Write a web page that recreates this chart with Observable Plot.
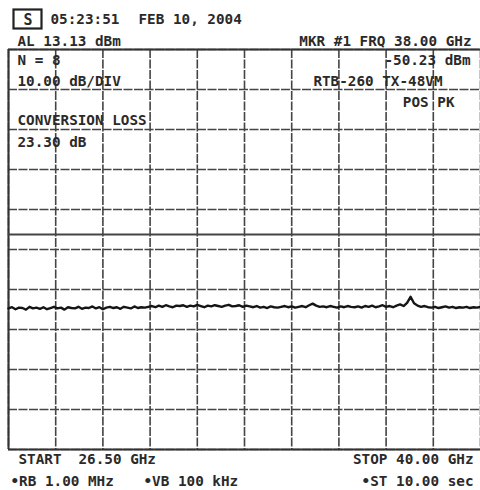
<!DOCTYPE html>
<html>
<head>
<meta charset="utf-8">
<script src="https://cdn.jsdelivr.net/npm/d3@7"></script>
<script src="https://cdn.jsdelivr.net/npm/@observablehq/plot@0.6"></script>
<style>
  html, body { margin: 0; padding: 0; background: #fff; }
  #chart svg { display: block; }
</style>
</head>
<body>
<div id="chart"></div>
<script>
// ---- data ----
const startGHz = 26.5;
const stopGHz = 40.0;
const stepGHz = 0.1;
const refLevel = 13.13;     // dBm, top of screen
const dbPerDiv = 10;
const displayLine = -33.12; // dBm
const traceDbm = [
  -51.6,-51.3,-51.8,-51.4,-51.5,-51.9,-51.2,-51.6,-51.4,-51.7,
  -51.3,-51.8,-51.5,-51.2,-51.6,-51.4,-51.9,-51.3,-51.5,-51.6,
  -51.2,-51.7,-51.4,-51.5,-51.1,-51.6,-51.3,-51.8,-51.4,-51.2,
  -51.5,-51.3,-51.7,-51.2,-51.4,-51.6,-51.1,-51.5,-51.3,-51.4,
  -51.2,-51.0,-51.3,-50.9,-51.2,-50.8,-51.1,-51.3,-50.9,-51.0,
  -50.8,-51.2,-50.9,-51.1,-50.7,-51.0,-51.3,-50.9,-51.1,-50.8,
  -51.0,-51.2,-50.9,-50.7,-51.1,-51.0,-50.8,-51.2,-50.9,-51.1,
  -51.3,-51.0,-51.4,-51.2,-51.5,-51.1,-51.3,-51.4,-51.2,-51.0,
  -51.3,-51.1,-51.4,-51.2,-51.0,-51.3,-50.8,-50.4,-50.9,-51.2,
  -51.1,-51.3,-51.0,-51.2,-51.4,-51.1,-51.3,-51.0,-51.2,-51.3,
  -51.1,-51.4,-51.0,-51.2,-50.9,-51.3,-51.1,-50.8,-51.2,-51.0,
  -51.3,-50.9,-50.6,-51.0,-50.2,-48.7,-50.3,-50.9,-51.2,-51.0,
  -51.3,-51.4,-51.2,-51.5,-51.3,-51.1,-51.4,-51.2,-51.5,-51.3,
  -51.4,-51.2,-51.5,-51.3,-51.4,-51.2
];
const headerLeft = ["05:23:51", "FEB 10, 2004", "AL 13.13 dBm"];
const headerRight = ["MKR #1 FRQ 38.00 GHz"];
const annotLeft = ["N = 8", "10.00 dB/DIV", "CONVERSION LOSS", "23.30 dB"];
const annotRight = ["-50.23 dBm", "RTB-260 TX-48VM", "POS PK"];
const footerLeft = ["START", "26.50 GHz", "\u2022RB 1.00 MHz", "\u2022VB 100 kHz"];
const footerRight = ["STOP 40.00 GHz", "\u2022ST 10.00 sec"];

// ---- derived tables ----
const trace = traceDbm.map((v, i) => ({f: +(startGHz + i * stepGHz).toFixed(2), dbm: v}));
const xDivs = d3.range(11).map(k => startGHz + k * (stopGHz - startGHz) / 10);
const yDivs = d3.range(11).map(k => refLevel - k * dbPerDiv);

const ML = 8, MT = 49;
const FONT = "DejaVu Sans Mono, Liberation Mono, monospace";
function label(s, x, y, anchor = "start", size = 14.3) {
  return Plot.text([s], {
    text: d => d, frameAnchor: "top-left",
    dx: x - ML, dy: y - MT,
    textAnchor: anchor, lineAnchor: "bottom",
    fontSize: size, fontFamily: FONT, fontWeight: 600, fill: "#2a2a2a"
  });
}

const chart = Plot.plot({
  width: 480, height: 490,
  marginLeft: ML, marginRight: 0, marginTop: MT, marginBottom: 41,
  x: {domain: [startGHz, stopGHz], axis: null},
  y: {domain: [refLevel - 10 * dbPerDiv, refLevel], axis: null},
  style: {background: "#fff"},
  marks: [
    Plot.ruleX(xDivs, {stroke: "#444", strokeWidth: 1.6, strokeDasharray: "9,1.5"}),
    Plot.ruleY(yDivs, {stroke: "#444", strokeWidth: 1.6, strokeDasharray: "9,1.5"}),
    Plot.ruleX([startGHz], {stroke: "#333", strokeWidth: 2}),
    Plot.ruleY([refLevel, refLevel - 10 * dbPerDiv], {stroke: "#333", strokeWidth: 2}),
    Plot.ruleY([displayLine], {stroke: "#444", strokeWidth: 1.8}),
    Plot.line(trace, {x: "f", y: "dbm", stroke: "#151515", strokeWidth: 2.4}),
    label("S", 27.5, 24, "middle", 15),
    label(headerLeft[0], 50, 23),
    label(headerLeft[1], 138, 23),
    label(headerLeft[2], 17, 45),
    label(headerRight[0], 471, 45, "end"),
    label(annotLeft[0], 17, 64),
    label(annotLeft[1], 17, 85),
    label(annotLeft[2], 17, 124),
    label(annotLeft[3], 17, 146),
    label(annotRight[0], 470, 64, "end"),
    label(annotRight[1], 442, 85, "end"),
    label(annotRight[2], 454, 106, "end"),
    label(footerLeft[0], 18, 463),
    label(footerLeft[1], 78, 463),
    label(footerLeft[2], 10, 485),
    label(footerLeft[3], 143, 485),
    label(footerRight[0], 473, 463, "end"),
    label(footerRight[1], 473, 485, "end")
  ]
});
document.getElementById("chart").appendChild(chart);
// boxed softkey symbol at the top-left
d3.select(chart).append("rect")
  .attr("x", 13.5).attr("y", 9.5).attr("width", 28).attr("height", 19)
  .attr("fill", "none").attr("stroke", "#222").attr("stroke-width", 2.2);
</script>
</body>
</html>
